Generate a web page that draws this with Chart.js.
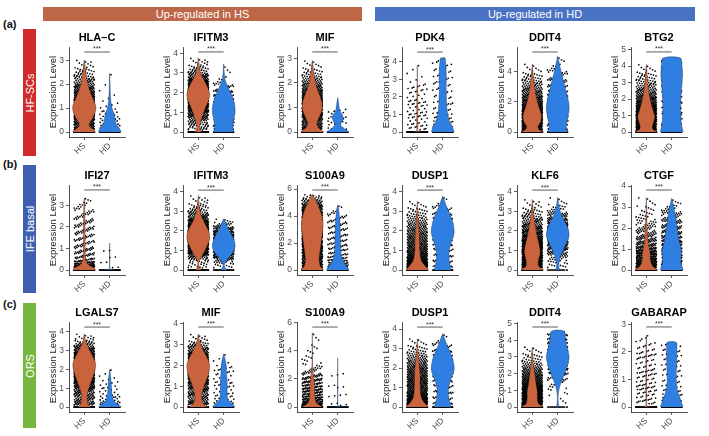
<!DOCTYPE html>
<html>
<head>
<meta charset="utf-8">
<script src="https://cdn.jsdelivr.net/npm/chart.js@4.4.0/dist/chart.umd.min.js"></script>
<style>
body { margin: 0; background: #fff; width: 709px; height: 436px; position: relative; overflow: hidden; font-family: "Liberation Sans", Arial, sans-serif; }
.hdr { position: absolute; top: 7px; height: 14px; line-height: 14px; color: #fff; font-size: 11px; text-align: center; }
.tag { position: absolute; left: 3px; font-weight: bold; font-size: 11px; color: #111; }
.side { position: absolute; left: 23px; width: 13px; }
.side span { position: absolute; left: 50%; top: 50%; transform: translate(-50%, -50%) rotate(-90deg); color: #fff; font-size: 11px; white-space: nowrap; }
canvas { position: absolute; }
</style>
</head>
<body>
<div class="hdr" style="left:43px;width:319px;background:#BD6748">Up-regulated in HS</div>
<div class="hdr" style="left:375px;width:320px;background:#4A72C2">Up-regulated in HD</div>
<div class="tag" style="top:18px">(a)</div>
<div class="tag" style="top:158px">(b)</div>
<div class="tag" style="top:298px">(c)</div>
<div class="side" style="top:29px;height:127px;background:#D02A2A"><span>HF-SCs</span></div>
<div class="side" style="top:165px;height:128px;background:#3F60B0"><span>IFE basal</span></div>
<div class="side" style="top:303px;height:125px;background:#76B83D"><span>ORS</span></div>

<script>
Chart.defaults.font.family = '"Liberation Sans", Arial, sans-serif'

const categories = ['HS', 'HD']

const genes = ['HLA–C', 'IFITM3', 'MIF', 'PDK4', 'DDIT4', 'BTG2',
    'IFI27', 'IFITM3', 'S100A9', 'DUSP1', 'KLF6', 'CTGF',
    'LGALS7', 'MIF', 'S100A9', 'DUSP1', 'DDIT4', 'GABARAP']

// top of each y axis
const yTop = [3.55, 4.32, 3.46, 4.84, 5.62, 5.16,
    3.95, 4.34, 6.3, 4.34, 4.34, 4.05,
    4.53, 4.08, 6.05, 4.36, 5.1, 3.09]

const yTicks = [[0, 1, 2, 3], [0, 1, 2, 3, 4], [0, 1, 2, 3], [0, 1, 2, 3, 4], [0, 2, 4], [0, 1, 2, 3, 4, 5],
    [0, 1, 2, 3], [0, 1, 2, 3, 4], [0, 2, 4, 6], [0, 1, 2, 3, 4], [0, 1, 2, 3, 4], [0, 1, 2, 3, 4],
    [0, 1, 2, 3, 4], [0, 1, 2, 3, 4], [0, 2, 4, 6], [0, 1, 2, 3, 4], [0, 1, 2, 3, 4, 5], [0, 1, 2, 3]]

// height of the *** bracket
const sigY = [3.34, 4.07, 3.26, 4.55, 5.29, 4.86,
    3.72, 4.08, 5.93, 4.08, 4.08, 3.81,
    4.26, 3.84, 5.69, 4.1, 4.8, 2.91]

// violin outlines: [expression level, relative half width]
const violinHS = [
    [[0, 1], [0.1, 0.8], [0.25, 0.45], [0.4, 0.5], [0.6, 0.75], [0.9, 1], [1.1, 1], [1.4, 0.75], [1.7, 0.5], [2, 0.3], [2.4, 0.15], [2.7, 0.08], [3.0, 0.02]],
    [[0, 0.3], [0.2, 0.12], [0.5, 0.2], [0.8, 0.35], [1.2, 0.6], [1.6, 0.9], [1.9, 1], [2.3, 0.8], [2.7, 0.45], [3.0, 0.2], [3.4, 0.08], [3.75, 0.02]],
    [[0, 1], [0.15, 0.6], [0.35, 0.4], [0.6, 0.6], [0.9, 0.85], [1.2, 0.85], [1.5, 0.65], [1.8, 0.4], [2.1, 0.25], [2.5, 0.1], [2.9, 0.02]],
    [[0, 1], [0.03, 0.06], [0.1, 0.04], [0.5, 0.05], [1, 0.05], [1.5, 0.05], [2, 0.04], [2.5, 0.035], [3, 0.015], [3.8, 0.01]],
    [[0, 1], [0.15, 0.6], [0.35, 0.5], [0.7, 0.75], [1.1, 0.8], [1.5, 0.65], [2, 0.45], [2.5, 0.3], [3, 0.2], [3.5, 0.12], [4, 0.05], [4.5, 0.01]],
    [[0, 1], [0.2, 0.55], [0.5, 0.6], [0.9, 0.75], [1.3, 0.6], [1.8, 0.4], [2.3, 0.25], [2.8, 0.15], [3.4, 0.08], [4.1, 0.01]],
    [[0, 1], [0.1, 0.85], [0.25, 0.35], [0.5, 0.12], [1, 0.08], [1.5, 0.08], [2, 0.07], [2.5, 0.06], [3, 0.04], [3.35, 0.01]],
    [[0, 0.25], [0.2, 0.05], [0.5, 0.1], [0.8, 0.4], [1.2, 0.75], [1.6, 1], [2, 0.9], [2.4, 0.55], [2.8, 0.25], [3.2, 0.1], [3.8, 0.01]],
    [[0, 1], [0.3, 0.7], [0.8, 0.6], [1.5, 0.7], [2.5, 0.85], [3.3, 0.95], [4, 0.85], [4.7, 0.55], [5.2, 0.25], [5.6, 0.02]],
    [[0, 1], [0.2, 0.7], [0.5, 0.35], [1, 0.22], [1.5, 0.2], [2, 0.15], [2.5, 0.1], [3, 0.05], [3.5, 0.01]],
    [[0, 1], [0.2, 0.55], [0.5, 0.55], [0.9, 0.7], [1.3, 0.6], [1.8, 0.4], [2.3, 0.25], [2.8, 0.12], [3.2, 0.05], [3.6, 0.01]],
    [[0, 1], [0.2, 0.55], [0.5, 0.35], [0.8, 0.35], [1.2, 0.2], [1.7, 0.12], [2.2, 0.07], [2.8, 0.03], [3.45, 0.01]],
    [[0, 0.55], [0.2, 0.3], [0.6, 0.25], [1.0, 0.4], [1.5, 0.7], [2.0, 0.95], [2.3, 1], [2.7, 0.75], [3.1, 0.4], [3.5, 0.12], [3.9, 0.01]],
    [[0, 0.8], [0.2, 0.4], [0.5, 0.3], [1.0, 0.5], [1.5, 0.85], [2.0, 1], [2.4, 0.75], [2.8, 0.35], [3.2, 0.1], [3.5, 0.01]],
    [[0, 1], [0.15, 0.6], [0.4, 0.3], [1, 0.22], [1.5, 0.2], [2, 0.15], [2.5, 0.08], [3, 0.03], [4, 0.015], [5.3, 0.005]],
    [[0, 1], [0.2, 0.65], [0.5, 0.35], [1, 0.25], [1.5, 0.25], [2, 0.2], [2.5, 0.12], [3, 0.05], [3.5, 0.01]],
    [[0, 1], [0.2, 0.55], [0.5, 0.45], [0.9, 0.45], [1.3, 0.35], [1.8, 0.25], [2.3, 0.15], [2.8, 0.07], [3.6, 0.01]],
    [[0, 1], [0.03, 0.06], [0.1, 0.03], [0.5, 0.04], [1, 0.035], [1.5, 0.03], [2, 0.03], [2.6, 0.01]]
]
const violinHD = [
    [[0, 1], [0.15, 0.85], [0.35, 0.55], [0.6, 0.45], [0.8, 0.35], [1.0, 0.2], [1.3, 0.1], [1.7, 0.05], [2.1, 0.03], [2.45, 0.01]],
    [[0, 0.85], [0.3, 0.8], [0.7, 0.9], [1.0, 1], [1.4, 0.95], [1.8, 0.75], [2.2, 0.45], [2.6, 0.15], [3.0, 0.05], [3.45, 0.01]],
    [[0, 1], [0.12, 0.6], [0.3, 0.25], [0.5, 0.45], [0.65, 0.45], [0.85, 0.2], [1.1, 0.1], [1.4, 0.01]],
    [[0, 1], [0.3, 0.85], [0.6, 0.6], [1.0, 0.45], [1.5, 0.35], [2.0, 0.32], [2.5, 0.3], [3.0, 0.32], [3.5, 0.3], [4.0, 0.25], [4.2, 0.2]],
    [[0, 0.85], [0.4, 0.75], [1, 0.9], [1.6, 1], [2.2, 0.9], [2.8, 0.7], [3.4, 0.5], [4, 0.3], [4.5, 0.15], [5, 0.02]],
    [[0, 1], [0.5, 0.85], [1, 0.8], [1.5, 0.78], [2, 0.8], [2.5, 0.85], [3, 0.9], [3.5, 0.95], [4, 0.9], [4.5, 0.75]],
    [[0, 1], [0.03, 0.06], [0.1, 0.02], [0.5, 0.02], [1.25, 0.01]],
    [[0, 0.3], [0.2, 0.05], [0.5, 0.25], [0.8, 0.7], [1.2, 1], [1.6, 0.85], [2.0, 0.5], [2.3, 0.25], [2.6, 0.02]],
    [[0, 1], [0.3, 0.75], [0.7, 0.45], [1.2, 0.3], [2, 0.25], [3, 0.22], [3.8, 0.18], [4.4, 0.1], [4.8, 0.02]],
    [[0, 0.75], [0.4, 0.6], [0.9, 0.55], [1.4, 0.75], [1.9, 1], [2.4, 0.9], [2.9, 0.6], [3.3, 0.3], [3.75, 0.02]],
    [[0, 0.15], [0.3, 0.1], [0.7, 0.25], [1.1, 0.55], [1.5, 0.85], [1.8, 1], [2.2, 0.85], [2.6, 0.5], [3.0, 0.22], [3.4, 0.08], [3.7, 0.01]],
    [[0, 1], [0.4, 0.8], [0.9, 0.85], [1.4, 0.65], [1.9, 0.5], [2.4, 0.38], [2.9, 0.22], [3.4, 0.02]],
    [[0, 1], [0.15, 0.7], [0.35, 0.35], [0.7, 0.2], [1.1, 0.15], [1.5, 0.1], [1.8, 0.05], [2.0, 0.01]],
    [[0, 1], [0.15, 0.75], [0.4, 0.35], [0.8, 0.3], [1.2, 0.3], [1.6, 0.25], [2.0, 0.22], [2.3, 0.12], [2.55, 0.01]],
    [[0, 1], [0.03, 0.06], [0.1, 0.02], [1, 0.02], [2, 0.015], [3.5, 0.005]],
    [[0, 0.75], [0.4, 0.55], [0.9, 0.5], [1.4, 0.7], [1.9, 1], [2.4, 0.9], [2.9, 0.6], [3.3, 0.3], [3.75, 0.02]],
    [[0, 0.1], [0.5, 0.03], [1.0, 0.1], [1.5, 0.3], [2.0, 0.6], [2.5, 0.85], [3.0, 1], [3.5, 0.85], [4.0, 0.7], [4.55, 0.55]],
    [[0, 1], [0.3, 0.75], [0.6, 0.5], [1.0, 0.4], [1.4, 0.42], [1.8, 0.45], [2.1, 0.45], [2.35, 0.4]]
]

// visible cells per group: [at zero, above zero]
const cellsHS = [[300, 900], [100, 1000], [250, 750], [200, 80], [250, 800], [250, 800],
    [300, 280], [80, 1050], [200, 1250], [200, 700], [200, 900], [250, 480],
    [150, 1100], [150, 900], [300, 330], [200, 700], [200, 700], [250, 120]]
const cellsHD = [[80, 60], [60, 260], [80, 30], [80, 110], [60, 260], [60, 260],
    [150, 8], [40, 500], [100, 200], [40, 200], [20, 500], [80, 400],
    [80, 60], [60, 80], [100, 15], [40, 200], [20, 260], [80, 100]]

const colX = [69, 183, 297, 402, 517, 631]
const rowTop = [47, 185, 322]
const fills = ['#C8633D', '#2F7FE3']
const HALF = 0.45

const frac = v => v - Math.floor(v)

function widthAt(profile, y) {
    for (let i = 1; i < profile.length; i++) {
        if (y <= profile[i][0]) {
            const [y0, w0] = profile[i - 1], [y1, w1] = profile[i]
            return w0 + (w1 - w0) * (y - y0) / (y1 - y0)
        }
    }
    return profile[profile.length - 1][1]
}

function outline(profile, centre) {
    const left = profile.map(p => ({x: centre - p[1] * HALF, y: p[0]}))
    const right = profile.slice().reverse().map(p => ({x: centre + p[1] * HALF, y: p[0]}))
    return left.concat(right)
}

// spread the cells of one group over its violin, quasi-evenly
function cells(profile, counts, centre) {
    const pts = []
    const [zeros, n] = counts
    for (let k = 0; k < zeros; k++) {
        pts.push({x: centre + (frac(0.5 + k * 0.6180339887) * 2 - 1) * 0.4, y: 0})
    }
    const lo = 0.1, hi = profile[profile.length - 1][0], steps = 300
    const cum = [0]
    for (let i = 1; i <= steps; i++) {
        cum.push(cum[i - 1] + widthAt(profile, lo + (hi - lo) * (i - 0.5) / steps))
    }
    for (let k = 0; k < n; k++) {
        const u = frac(0.5 + k * 0.7548776662) * cum[steps]
        let i = 1
        while (i < steps && cum[i] < u) i++
        const t = (i - 1 + (u - cum[i - 1]) / (cum[i] - cum[i - 1])) / steps
        pts.push({x: centre + (frac(0.5 + k * 0.5698402910) * 2 - 1) * 0.4, y: lo + (hi - lo) * t})
    }
    return pts
}

const axisGrid = {drawOnChartArea: false, drawTicks: true, tickLength: 3, color: '#333', lineWidth: 0.8}
const axisBorder = {color: '#222', width: 0.8}
const tickFont = {size: 8.5}

for (let p = 0; p < genes.length; p++) {
    const cv = document.createElement('canvas')
    cv.width = 96
    cv.height = 132
    cv.style.left = (colX[p % 6] - 36) + 'px'
    cv.style.top = (rowTop[Math.floor(p / 6)] - 20) + 'px'
    document.body.appendChild(cv)

    const stars = {
        id: 'stars',
        afterDatasetsDraw(chart) {
            const {ctx, scales: {x, y}} = chart
            ctx.save()
            ctx.fillStyle = '#333'
            ctx.font = '7px "Liberation Sans", Arial, sans-serif'
            ctx.textAlign = 'center'
            ctx.textBaseline = 'bottom'
            ctx.fillText('***', (x.getPixelForValue(1) + x.getPixelForValue(2)) / 2, y.getPixelForValue(sigY[p]) + 1)
            ctx.restore()
        }
    }

    new Chart(cv, {
        type: 'scatter',
        data: {
            datasets: [
                {type: 'line', data: outline(violinHS[p], 1), fill: 'shape', backgroundColor: fills[0],
                    borderColor: 'rgba(0,0,0,0.55)', borderWidth: 0.5, pointRadius: 0, tension: 0.3},
                {type: 'line', data: outline(violinHD[p], 2), fill: 'shape', backgroundColor: fills[1],
                    borderColor: 'rgba(0,0,0,0.55)', borderWidth: 0.5, pointRadius: 0, tension: 0.3},
                {data: cells(violinHS[p], cellsHS[p], 1), pointRadius: 0.85, backgroundColor: '#000', borderWidth: 0},
                {data: cells(violinHD[p], cellsHD[p], 2), pointRadius: 0.85, backgroundColor: '#000', borderWidth: 0},
                {type: 'line', data: [{x: 1, y: sigY[p]}, {x: 2, y: sigY[p]}], borderColor: '#333',
                    borderWidth: 0.8, pointRadius: 0, fill: false}
            ]
        },
        options: {
            responsive: false,
            animation: false,
            events: [],
            layout: {padding: {left: 0, right: 3, top: 0, bottom: 0}},
            plugins: {
                legend: {display: false},
                tooltip: {enabled: false},
                title: {
                    display: true, text: genes[p], fullSize: false, color: '#000',
                    font: {size: 11, weight: 'bold'}, padding: {top: 4.2, bottom: 2.6}
                }
            },
            scales: {
                x: {
                    type: 'linear', min: 0.4, max: 2.6,
                    afterBuildTicks: s => { s.ticks = [{value: 1}, {value: 2}] },
                    afterCalculateLabelRotation: s => { s.labelRotation = 45 },
                    afterFit: s => { s.height = 22 },
                    ticks: {callback: v => categories[v - 1], minRotation: 45, maxRotation: 45, autoSkip: false,
                        font: tickFont, color: '#4D4D4D', padding: 1},
                    grid: axisGrid, border: axisBorder
                },
                y: {
                    min: -yTop[p] * 5 / 85, max: yTop[p],
                    afterBuildTicks: s => { s.ticks = yTicks[p].map(v => ({value: v})) },
                    afterFit: s => { s.width = 36 },
                    ticks: {font: tickFont, color: '#4D4D4D', padding: 2},
                    title: {display: true, text: 'Expression Level', color: '#1a1a1a',
                        font: {size: 9.5}, padding: {top: 14.5, bottom: 0}},
                    grid: axisGrid, border: axisBorder
                }
            }
        },
        plugins: [stars]
    })
}
</script>
</body>
</html>
